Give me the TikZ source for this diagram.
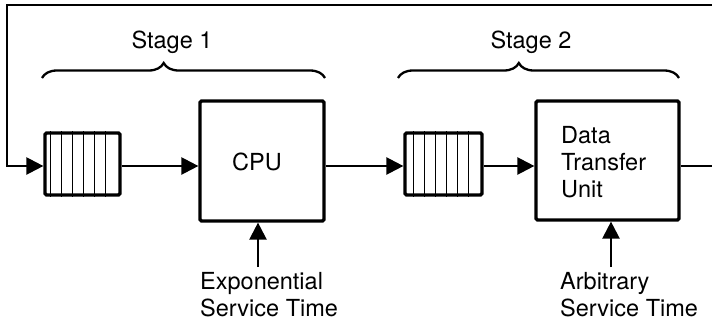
\documentclass[tikz,border=0pt]{standalone}
\usepackage{fontspec}
\setmainfont{TeX Gyre Heros}
\usetikzlibrary{arrows.meta,decorations.pathreplacing}
\begin{document}
\begin{tikzpicture}[x=1pt,y=-1pt,
  font=\fontsize{23.5}{27}\selectfont,
  boxnode/.style={draw, line width=3.2pt, rounded corners=1.5pt, inner sep=0pt},
  conn/.style={line width=2.3pt},
  arr/.style={conn, -{Triangle[length=17pt,width=17pt]}},
  qline/.style={line width=1.5pt},
  stagebrace/.style={decorate, decoration={brace, amplitude=15pt, aspect=0.43}, line width=2.3pt},
  lbl/.style={inner sep=0pt, align=left}]
\useasboundingbox (0,0) rectangle (712,324);

% boxes
\node[boxnode, minimum width=75pt, minimum height=62pt] (q1) at (82.5,164) {};
\node[boxnode, minimum width=124pt, minimum height=120pt] (cpu) at (262,161) {};
\node[boxnode, minimum width=77pt, minimum height=62pt] (q2) at (443.5,164) {};
\node[boxnode, minimum width=143pt, minimum height=119pt] (dtu) at (607.5,160.5) {};

% queue slots
\foreach \dx in {7,18,29,40,51,62} \draw[qline] ([xshift=\dx pt]q1.north west) -- ([xshift=\dx pt]q1.south west);
\foreach \dx in {10,21,32,43,54,65} \draw[qline] ([xshift=\dx pt]q2.north west) -- ([xshift=\dx pt]q2.south west);

% texts
\node (cputxt) at (257,162) {CPU};
\node[lbl, anchor=north west] (dtutxt) at (561,126) {Data\\Transfer\\Unit};
\node[lbl, anchor=north west] (explbl) at (200,272) {Exponential\\Service Time};
\node[lbl, anchor=north west] (arblbl) at (560,272) {Arbitrary\\Service Time};
\node[anchor=base] (s1) at (172,48) {Stage 1};
\node[anchor=base] (s2) at (531,48) {Stage 2};

% braces
\coordinate (b1l) at (42,78); \coordinate (b1r) at (325,78);
\coordinate (b2l) at (398,78); \coordinate (b2r) at (679,78);
\draw[stagebrace] (b1l) -- (b1r);
\draw[stagebrace] (b2l) -- (b2r);

% feedback loop
\coordinate (tr) at (712,5);
\coordinate (tl) at (7,5);
\coordinate (rout) at (712,166);
\draw[arr] (tr) -- (tl) -- (tl |- 0,166) -- (q1.west |- 0,166);
\draw[arr] (q1.east |- 0,166) -- (cpu.west |- 0,166);
\draw[arr] (cpu.east |- 0,166) -- (q2.west |- 0,166);
\draw[arr] (q2.east |- 0,166) -- (dtu.west |- 0,166);
\draw[conn] (dtu.east |- rout) -- (rout);

% service-time arrows
\coordinate (e1) at (258,267);
\coordinate (e2) at (611,267);
\draw[arr] (e1) -- (e1 |- cpu.south);
\draw[arr] (e2) -- (e2 |- dtu.south);
\end{tikzpicture}
\end{document}
